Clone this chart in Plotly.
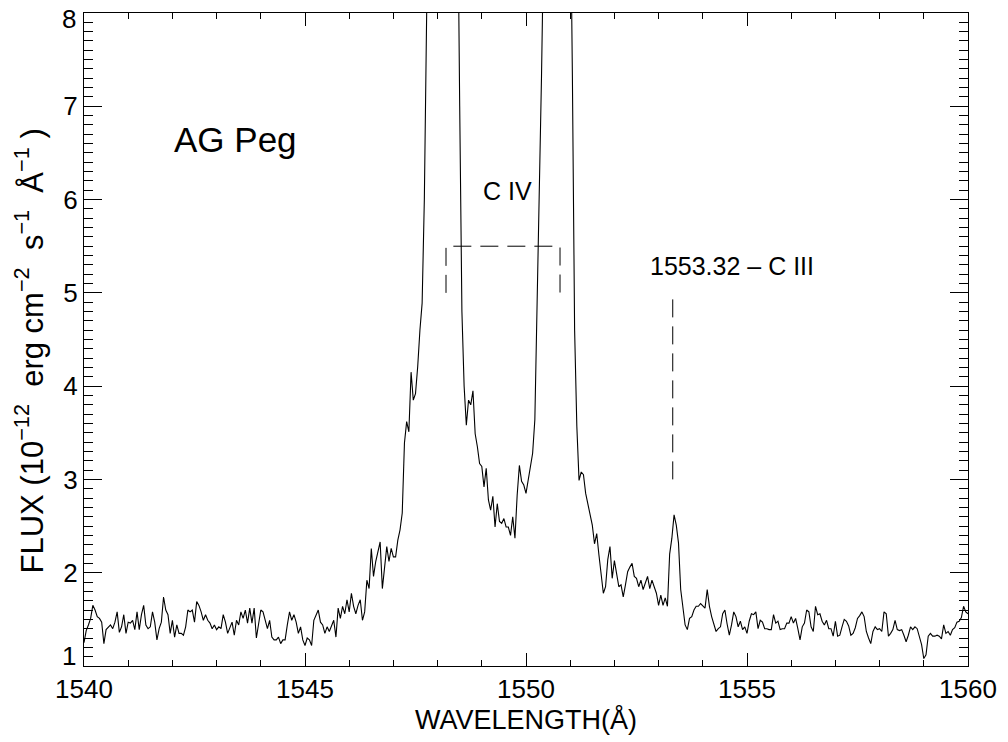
import numpy as np
import plotly.graph_objects as go

# Wavelength grid (Angstrom): start and sampling step of the spectrum
wl_start = 1540.0
wl_step = 0.05

# Flux (1e-12 erg cm^-2 s^-1 A^-1), one value per grid point
flux = [
    1.25, 1.38, 1.44, 1.51, 1.65, 1.60, 1.53, 1.51, 1.47, 1.24,
    1.39, 1.42, 1.44, 1.40, 1.47, 1.58, 1.36, 1.42, 1.55, 1.35,
    1.47, 1.46, 1.49, 1.39, 1.58, 1.39, 1.55, 1.65, 1.44, 1.40,
    1.42, 1.58, 1.47, 1.28, 1.40, 1.47, 1.74, 1.60, 1.55, 1.35,
    1.49, 1.31, 1.44, 1.35, 1.35, 1.33, 1.42, 1.60, 1.58, 1.60,
    1.47, 1.69, 1.65, 1.58, 1.49, 1.55, 1.49, 1.46, 1.40, 1.44,
    1.39, 1.42, 1.40, 1.55, 1.47, 1.35, 1.42, 1.47, 1.33, 1.49,
    1.44, 1.58, 1.51, 1.60, 1.46, 1.62, 1.46, 1.62, 1.30, 1.46,
    1.60, 1.58, 1.49, 1.40, 1.49, 1.31, 1.28, 1.28, 1.31, 1.24,
    1.28, 1.28, 1.44, 1.58, 1.49, 1.55, 1.47, 1.35, 1.42, 1.28,
    1.22, 1.30, 1.28, 1.22, 1.49, 1.55, 1.60, 1.47, 1.44, 1.35,
    1.42, 1.37, 1.44, 1.49, 1.31, 1.62, 1.51, 1.64, 1.56, 1.71,
    1.58, 1.78, 1.64, 1.56, 1.65, 1.71, 1.49, 1.58, 1.92, 1.83,
    2.26, 1.96, 2.12, 2.22, 2.33, 1.83, 2.07, 2.28, 2.12, 2.26,
    2.17, 2.17, 2.35, 2.46, 2.64, 3.39, 3.62, 3.51, 4.15, 3.85,
    3.92, 4.21, 4.60, 4.89, 6.0, 7.4, 9.5, 12.0, 15.0, 18.0,
    20.0, 22.0, 24.0, 25.0, 25.0, 24.0, 21.0, 17.0, 13.0, 9.5,
    7.0, 4.8, 4.0, 3.58, 3.85, 3.80, 3.95, 3.49, 3.35, 3.17,
    3.14, 2.92, 3.12, 2.78, 2.67, 2.82, 2.49, 2.74, 2.55, 2.53,
    2.58, 2.49, 2.49, 2.40, 2.60, 2.37, 2.83, 3.15, 2.98, 2.94,
    2.85, 2.99, 3.17, 3.28, 3.64, 4.78, 6.0, 7.3, 8.8, 11.0,
    14.0, 17.0, 19.0, 21.0, 22.0, 22.0, 21.0, 18.0, 15.0, 12.0,
    9.5, 7.3, 4.6, 3.57, 2.99, 3.08, 3.05, 2.85, 2.73, 2.64,
    2.51, 2.31, 2.42, 2.19, 2.00, 1.78, 1.85, 2.14, 2.28, 1.94,
    2.13, 2.00, 1.85, 1.87, 1.74, 1.87, 2.01, 2.06, 2.10, 1.96,
    1.94, 1.85, 1.92, 1.82, 1.90, 1.96, 1.83, 1.92, 1.85, 1.78,
    1.65, 1.76, 1.65, 1.73, 1.64, 2.20, 2.37, 2.62, 2.51, 2.32,
    1.82, 1.62, 1.44, 1.39, 1.51, 1.53, 1.60, 1.64, 1.64, 1.67,
    1.64, 1.62, 1.82, 1.64, 1.53, 1.46, 1.37, 1.40, 1.42, 1.56,
    1.60, 1.45, 1.33, 1.44, 1.58, 1.53, 1.42, 1.48, 1.39, 1.42,
    1.35, 1.48, 1.56, 1.55, 1.58, 1.40, 1.49, 1.47, 1.40, 1.40,
    1.39, 1.39, 1.55, 1.46, 1.48, 1.39, 1.40, 1.40, 1.46, 1.46,
    1.53, 1.46, 1.51, 1.40, 1.28, 1.42, 1.46, 1.60, 1.58, 1.42,
    1.37, 1.64, 1.55, 1.56, 1.48, 1.44, 1.49, 1.40, 1.40, 1.32,
    1.48, 1.32, 1.33, 1.42, 1.50, 1.48, 1.43, 1.33, 1.35, 1.41,
    1.51, 1.54, 1.58, 1.53, 1.37, 1.30, 1.24, 1.37, 1.42, 1.39,
    1.40, 1.37, 1.58, 1.56, 1.32, 1.35, 1.39, 1.49, 1.39, 1.38,
    1.39, 1.33, 1.26, 1.33, 1.42, 1.39, 1.42, 1.40, 1.30, 1.23,
    1.08, 1.12, 1.32, 1.35, 1.32, 1.32, 1.33, 1.32, 1.29, 1.44,
    1.35, 1.37, 1.33, 1.39, 1.41, 1.47, 1.48, 1.52, 1.64, 1.58,
    1.56,
]
wavelength = wl_start + wl_step * np.arange(len(flux))

# Line identifications
civ_lines = [1548.19, 1550.77]       # C IV doublet
civ_bracket_levels = [5.0, 5.5]      # bottom / top of the bracket
ciii_line = 1553.32                  # C III
ciii_marker_levels = [4.93, 3.0]     # top / bottom of the marker

x_range = [1540, 1560]
y_range = [1, 8]
x_ticks = [1540, 1545, 1550, 1555, 1560]
y_ticks = [1, 2, 3, 4, 5, 6, 7, 8]
y_ticktext = ["", "2", "3", "4", "5", "6", "7", ""]   # end labels drawn inside the range below

FONT = "Liberation Sans, Arial, Helvetica, sans-serif"
DASH = "18px,9px"
NB = "\u00a0"

fig = go.Figure()
fig.add_trace(go.Scatter(
    x=wavelength, y=flux, mode="lines",
    line=dict(color="black", width=1.1), showlegend=False, hoverinfo="skip"))

# C IV bracket
fig.add_trace(go.Scatter(
    x=[civ_lines[0], civ_lines[0], civ_lines[1], civ_lines[1]],
    y=[civ_bracket_levels[0], civ_bracket_levels[1], civ_bracket_levels[1], civ_bracket_levels[0]],
    mode="lines", line=dict(color="black", width=1, dash=DASH),
    showlegend=False, hoverinfo="skip"))

# C III marker
fig.add_trace(go.Scatter(
    x=[ciii_line, ciii_line], y=ciii_marker_levels,
    mode="lines", line=dict(color="black", width=1, dash=DASH),
    showlegend=False, hoverinfo="skip"))

fig.add_annotation(x=1542.0, y=6.64, text="AG Peg", showarrow=False,
                   xanchor="left", yanchor="middle", font=dict(size=35, color="black", family=FONT))
fig.add_annotation(x=0.5 * (civ_lines[0] + civ_lines[1]) + 0.1, y=6.09, text="C IV", showarrow=False,
                   xanchor="center", yanchor="middle", font=dict(size=25, color="black", family=FONT))
fig.add_annotation(x=1552.76, y=5.29, text="1553.32 – C III", showarrow=False,
                   xanchor="left", yanchor="middle", font=dict(size=25, color="black", family=FONT))

# End labels of the y axis, kept inside the plotted range as in the original
for val, anchor, shift in ((y_range[0], "bottom", -7), (y_range[1], "top", 11)):
    fig.add_annotation(x=0, xref="paper", xanchor="right", xshift=-6,
                       y=val, yref="y", yanchor=anchor, yshift=shift,
                       text=str(val), showarrow=False,
                       font=dict(size=26, color="black", family=FONT))

# y-axis title, rotated, placed like the original
ytitle = ("FLUX (10<sup>−12</sup>" + NB + " erg cm<sup>−2</sup>" + NB + " s<sup>−1</sup>"
          + NB + " Å<sup>−1</sup>" + NB + ")")
fig.add_annotation(x=0, xref="paper", xanchor="center", xshift=-55,
                   y=0.5, yref="paper", yanchor="middle", yshift=-12,
                   text=ytitle, textangle=-90, showarrow=False,
                   font=dict(size=31, color="black", family=FONT))

axis_common = dict(
    showline=True, linecolor="black", linewidth=1, mirror="allticks",
    ticks="inside", tickcolor="black", tickwidth=1,
    showgrid=False, zeroline=False,
    tickfont=dict(size=26, color="black", family=FONT),
)

fig.update_xaxes(
    range=x_range, tickvals=x_ticks, ticklen=13,
    minor=dict(dtick=1, ticks="inside", ticklen=6, tickcolor="black", showgrid=False),
    title=dict(text="WAVELENGTH(Å)", font=dict(size=27, color="black", family=FONT), standoff=3),
    **axis_common)
fig.update_yaxes(
    range=y_range, tickvals=y_ticks, ticktext=y_ticktext, ticklen=18,
    minor=dict(dtick=0.1, ticks="inside", ticklen=9, tickcolor="black", showgrid=False),
    **axis_common)

fig.update_layout(
    width=1008, height=742, autosize=False,
    margin=dict(l=84, r=40, t=13, b=76),
    paper_bgcolor="white", plot_bgcolor="white",
    font=dict(family=FONT, color="black"),
)

fig.write_html("out.html")
